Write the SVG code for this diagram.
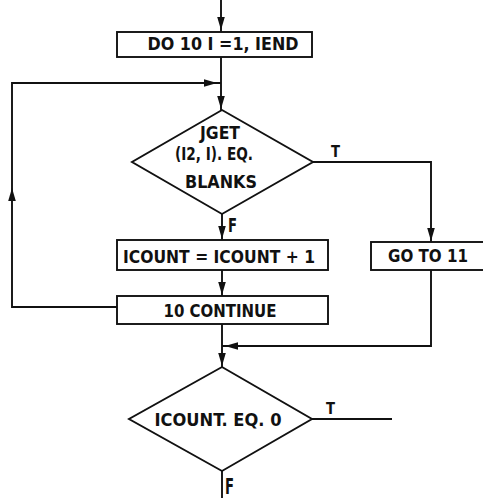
<svg xmlns="http://www.w3.org/2000/svg" width="483" height="498" viewBox="0 0 483 498">
<style>
.s{fill:none;stroke:#111;stroke-width:1.9}
.b{fill:#fff;stroke:#111;stroke-width:1.9}
.t{font-family:"DejaVu Sans Condensed","Liberation Sans Narrow","Liberation Sans",sans-serif;font-weight:bold;font-size:18px;fill:#111;text-anchor:middle}
.d{font-size:17px}
.l{font-family:"DejaVu Sans Condensed","Liberation Sans Narrow","Liberation Sans",sans-serif;font-weight:bold;font-size:15px;fill:#111}
</style>
<defs>
<path id="ah" d="M0,0 L-13,-3.8 L-13,3.8 Z" fill="#111"/>
</defs>
<g id="connectors">
<path class="s" d="M221,0 V32"/>
<use href="#ah" transform="translate(221,30) rotate(90)"/>
<path class="s" d="M221,57 V110"/>
<use href="#ah" transform="translate(221,109) rotate(90)"/>
<path class="s" d="M117,307 H12 V83 H221"/>
<use href="#ah" transform="translate(12,188) rotate(-90)"/>
<use href="#ah" transform="translate(217,83)"/>
<path class="s" d="M313,162 H431 V242"/>
<use href="#ah" transform="translate(431,241) rotate(90)"/>
<path class="s" d="M222,214 V240"/>
<use href="#ah" transform="translate(222,239) rotate(90)"/>
<path class="s" d="M222,270 V296"/>
<use href="#ah" transform="translate(222,295) rotate(90)"/>
<path class="s" d="M431,270 V346 H222"/>
<use href="#ah" transform="translate(225,346) rotate(180)"/>
<path class="s" d="M222,324 V367"/>
<use href="#ah" transform="translate(222,366) rotate(90)"/>
<path class="s" d="M312,419 H392"/>
<path class="s" d="M222,471 V498"/>
<text class="l" x="331" y="157" textLength="9" lengthAdjust="spacingAndGlyphs">T</text>
<text class="l" x="228" y="232" style="font-size:19px" textLength="9" lengthAdjust="spacingAndGlyphs">F</text>
<text class="l" x="326" y="414" style="font-size:16px" textLength="9" lengthAdjust="spacingAndGlyphs">T</text>
<text class="l" x="225" y="494" style="font-size:21px" textLength="9" lengthAdjust="spacingAndGlyphs">F</text>
</g>
<g id="do">
<rect class="b" x="117" y="32" width="195" height="25"/>
<text class="t" x="223" y="50" textLength="151" lengthAdjust="spacingAndGlyphs">DO 10 I =1, IEND</text>
</g>
<g id="jget">
<path class="b" d="M222,110 L313,162 L222,214 L132,162 Z"/>
<text class="t d" x="220" y="139" textLength="40" lengthAdjust="spacingAndGlyphs">JGET</text>
<text class="t d" x="214" y="160" textLength="78" lengthAdjust="spacingAndGlyphs">(I2, I). EQ.</text>
<text class="t d" x="221" y="188" textLength="72" lengthAdjust="spacingAndGlyphs">BLANKS</text>
</g>
<g id="icount">
<rect class="b" x="117" y="240" width="211" height="30"/>
<text class="t" x="219" y="263" textLength="192" lengthAdjust="spacingAndGlyphs">ICOUNT = ICOUNT + 1</text>
</g>
<g id="goto">
<rect class="b" x="371" y="242" width="120" height="28"/>
<text class="t" x="428" y="262" textLength="80" lengthAdjust="spacingAndGlyphs">GO TO 11</text>
</g>
<g id="continue">
<rect class="b" x="117" y="296" width="211" height="28"/>
<text class="t" x="220" y="317" textLength="113" lengthAdjust="spacingAndGlyphs">10 CONTINUE</text>
</g>
<g id="icounteq">
<path class="b" d="M222,367 L312,419 L222,471 L129,419 Z"/>
<text class="t" x="218" y="426" textLength="127" lengthAdjust="spacingAndGlyphs">ICOUNT. EQ. 0</text>
</g>
</svg>
